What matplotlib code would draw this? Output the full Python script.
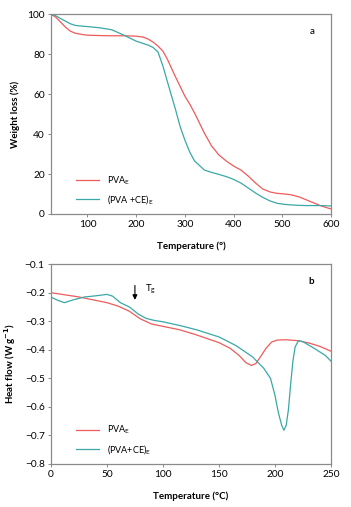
import numpy as np
import matplotlib.pyplot as plt

plt.rcParams['font.family'] = ['Lato', 'DejaVu Sans']

# ---------------- TGA data (panel a) ----------------
tga_t = [25, 35, 45, 55, 65, 75, 90, 100, 125, 150, 175, 200, 215, 225, 235, 245,
         255, 265, 280, 290, 300, 310, 320, 340, 355, 370, 385, 400, 415, 430, 445, 460,
         475, 490, 505, 520, 535, 550, 565, 580, 600]
tga_pva = [100, 98.5, 96, 93.5, 91.5, 90.5, 89.8, 89.5, 89.3, 89.2, 89.2, 89, 88.5, 87.5,
           86, 84, 81.5, 77, 69, 64, 59, 55, 50.5, 40.5, 34, 29.5, 26.5, 24, 22, 19, 15.5, 12.5,
           11, 10.3, 10, 9.5, 8.5, 7, 5.5, 4, 2.5]
tga_pva_ce = [100, 99.2, 97.8, 96.5, 95.2, 94.4, 94, 93.8, 93.2, 92.2, 89.5, 86.5, 85.3, 84.5,
              83.3, 81, 74, 65.5, 53, 44, 37, 31, 26.5, 22, 20.8, 19.8, 18.7, 17.3, 15.5, 13, 10.5, 8.3,
              6.5, 5.3, 4.8, 4.5, 4.3, 4.2, 4.2, 4.2, 4]

# ---------------- DSC data (panel b) ----------------
dsc_t_pva = [0, 25, 50, 60, 70, 80, 90, 100, 115, 130, 150, 160, 168, 174, 179, 183,
             187, 192, 197, 202, 210, 220, 230, 240, 250]
dsc_pva = [-0.200, -0.215, -0.235, -0.247, -0.265, -0.292, -0.310, -0.318, -0.330, -0.348,
           -0.375, -0.395, -0.420, -0.445, -0.455, -0.448, -0.425, -0.395, -0.373, -0.366,
           -0.365, -0.368, -0.376, -0.388, -0.405]
dsc_t_ce = [0, 5, 12, 20, 30, 40, 50, 55, 62, 70, 78, 85, 92, 100, 115, 130, 150, 165,
            180, 190, 196, 200, 203, 206, 208, 210, 212, 214, 216, 218, 221, 225, 235, 245, 250]
dsc_ce = [-0.215, -0.225, -0.235, -0.225, -0.215, -0.211, -0.206, -0.212, -0.235, -0.250,
          -0.275, -0.290, -0.297, -0.302, -0.315, -0.330, -0.355, -0.385, -0.425, -0.465,
          -0.500, -0.560, -0.620, -0.665, -0.682, -0.665, -0.610, -0.520, -0.440, -0.390,
          -0.368, -0.372, -0.395, -0.420, -0.440]

red = '#ee5b5b'
teal = '#3aa8a6'
frame = '#8a8a8a'


def style_axes(ax):
    for s in ax.spines.values():
        s.set_color(frame)
        s.set_linewidth(0.9)
    ax.tick_params(direction='out', length=2.5, width=0.7, color=frame,
                   labelsize=7.3, pad=2)


fig = plt.figure(figsize=(3.51, 5.07), dpi=100)

# =========================================================
# PANEL A
# =========================================================
ax1 = fig.add_axes([0.145, 0.578, 0.798, 0.394])
ax1.plot(tga_t, tga_pva, color=red, lw=0.9, label=r'PVA$_\mathregular{E}$')
ax1.plot(tga_t, tga_pva_ce, color=teal, lw=0.9, label=r'(PVA +CE)$_\mathregular{E}$')
ax1.set_xlim(25, 600)
ax1.set_ylim(0, 100)
ax1.set_xticks([100, 200, 300, 400, 500, 600])
ax1.set_yticks([0, 20, 40, 60, 80, 100])
ax1.set_xlabel('Temperature (°)', fontsize=7, fontweight='bold', labelpad=9)
ax1.set_ylabel('Weight loss (%)', fontsize=7, fontweight='bold', labelpad=5)
ax1.text(0.94, 0.935, 'a', transform=ax1.transAxes, fontsize=7, ha='right', va='top')
ax1.legend(loc='lower left', bbox_to_anchor=(0.06, 0.0), frameon=False, fontsize=6.5,
           handlelength=2.6, handletextpad=0.8, labelspacing=0.7)
style_axes(ax1)

# =========================================================
# PANEL B
# =========================================================
ax2 = fig.add_axes([0.145, 0.085, 0.798, 0.394])
ax2.plot(dsc_t_pva, dsc_pva, color=red, lw=0.9, label=r'PVA$_\mathregular{E}$')
ax2.plot(dsc_t_ce, dsc_ce, color=teal, lw=0.9, label=r'(PVA+CE)$_\mathregular{E}$')
ax2.set_xlim(0, 250)
ax2.set_ylim(-0.8, -0.1)
ax2.set_xticks([0, 50, 100, 150, 200, 250])
ax2.set_yticks(np.round(np.arange(-0.8, -0.05, 0.1), 1))
ax2.set_xlabel('Temperature (°C)', fontsize=7, fontweight='bold', labelpad=9)
ax2.set_ylabel(r'Heat flow (W g$^{\mathbf{-1}}$)', fontsize=7, fontweight='bold', labelpad=5)
ax2.text(0.94, 0.935, 'b', transform=ax2.transAxes, fontsize=7, fontweight='bold',
         ha='right', va='top')
ax2.annotate('', xy=(75, -0.235), xytext=(75, -0.165),
             arrowprops=dict(arrowstyle='-|>', color='black', lw=0.8, mutation_scale=7))
ax2.text(84, -0.188, r'T$_\mathregular{g}$', fontsize=7, va='center')
ax2.legend(loc='lower left', bbox_to_anchor=(0.06, 0.0), frameon=False, fontsize=6.5,
           handlelength=2.6, handletextpad=0.8, labelspacing=0.7)
style_axes(ax2)

fig.savefig('out.png', dpi=100)
